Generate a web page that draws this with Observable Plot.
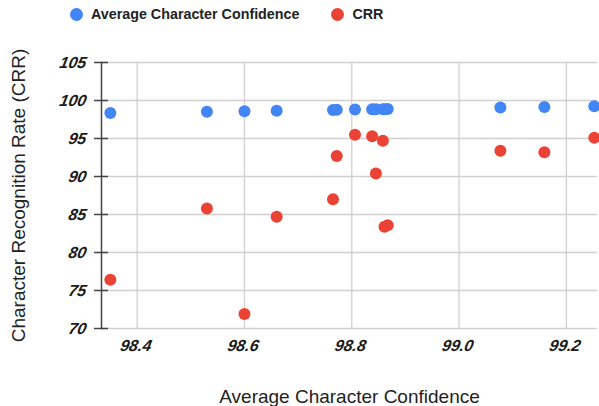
<!DOCTYPE html>
<html>
<head>
<meta charset="utf-8">
<script src="https://cdn.jsdelivr.net/npm/d3@7"></script>
<script src="https://cdn.jsdelivr.net/npm/@observablehq/plot@0.6"></script>
<style>
  html, body { margin: 0; padding: 0; background: #fff; }
  #wrap { position: relative; width: 599px; height: 406px; overflow: hidden; font-family: "Liberation Sans", Arial, sans-serif; }
  #legend { position: absolute; top: 6px; left: 70px; display: flex; align-items: center; font-weight: bold; font-size: 14.3px; color: #222; }
  .item { display: flex; align-items: center; margin-right: 32px; }
  .sw { width: 13px; height: 13px; border-radius: 50%; margin-right: 8px; display: inline-block; }
  #chart { position: absolute; top: 0; left: 0; }
</style>
</head>
<body>
<div id="wrap">
  <div id="chart"></div>
  <div id="legend"></div>
</div>
<script>
// Data
const confidence = [98.350, 98.530, 98.600, 98.660, 98.765, 98.772, 98.806, 98.838, 98.845, 98.858, 98.861, 98.867, 99.077, 99.159, 99.252];
const crr        = [76.4,   85.8,   71.9,   84.7,   87.0,   92.7,   95.5,   95.3,   90.4,   94.7,   83.4,   83.6,   93.4,   93.2,   95.1];
const seriesNames = ["Average Character Confidence", "CRR"];
const seriesColors = ["#4285F4", "#EA4335"];
const xTicks = [98.4, 98.6, 98.8, 99.0, 99.2];
const yTicks = [70, 75, 80, 85, 90, 95, 100, 105];
const xDomain = [98.3335, 99.258];
const yDomain = [70, 105];

const points = [];
confidence.forEach((c, i) => points.push({x: c, y: c, s: seriesNames[0]}));
confidence.forEach((c, i) => points.push({x: c, y: crr[i], s: seriesNames[1]}));

const legend = document.getElementById("legend");
seriesNames.forEach((n, i) => {
  const it = document.createElement("div");
  it.className = "item";
  it.innerHTML = `<span class="sw" style="background:${seriesColors[i]}"></span><span>${n}</span>`;
  legend.appendChild(it);
});

const plot = Plot.plot({
  width: 599,
  height: 406,
  marginTop: 62,
  marginBottom: 78,
  marginLeft: 101,
  marginRight: 2,
  style: {fontFamily: "'Liberation Sans', Arial, sans-serif", background: "white", color: "#222"},
  x: {domain: xDomain, ticks: xTicks},
  y: {domain: yDomain, ticks: yTicks},
  color: {domain: seriesNames, range: seriesColors},
  marks: [
    Plot.gridX(xTicks, {stroke: "#d0d0d0", strokeOpacity: 1, strokeWidth: 1.3}),
    Plot.gridY(yTicks, {stroke: "#d0d0d0", strokeOpacity: 1, strokeWidth: 1.3}),
    Plot.frame({anchor: "left", stroke: "#444", strokeWidth: 1.5}),
    Plot.axisY(yTicks, {tickSize: 14, dx: 7, tickFormat: () => "", label: null, stroke: "#444", strokeWidth: 1.5}),
    Plot.axisY(yTicks, {tickSize: 0, tickPadding: 15, fontSize: 16, fontWeight: "bold", fill: "#1a1a1a",
      label: "Character Recognition Rate (CRR)", labelAnchor: "center", labelArrow: "none", labelOffset: 90}),
    Plot.axisX(xTicks, {tickSize: 0, tickPadding: 11, fontSize: 16, fontWeight: "bold", fill: "#1a1a1a",
      tickFormat: d => d.toFixed(1),
      label: "Average Character Confidence", labelAnchor: "center", labelArrow: "none", labelOffset: 74}),
    Plot.dot(points, {x: "x", y: "y", fill: "s", r: 6, stroke: null})
  ]
});
plot.querySelectorAll("g").forEach(g => {
  const a = g.getAttribute("aria-label") || "";
  if (a.includes("tick label")) {
    // slanted (italic look) tick labels
    g.querySelectorAll("text").forEach(t => {
      t.style.fontStyle = "italic";
      const tr = t.getAttribute("transform") || "";
      t.setAttribute("transform", tr + " skewX(-11)");
    });
  }
  if (a === "x-axis label" || a === "y-axis label") {
    g.setAttribute("font-size", "19px");
    g.setAttribute("font-weight", "normal");
    g.style.fontWeight = "normal";
    g.setAttribute("fill", "#222");
    g.querySelectorAll("text").forEach(t => { t.style.fontWeight = "normal"; });
  }
});
document.getElementById("chart").appendChild(plot);
</script>
</body>
</html>
